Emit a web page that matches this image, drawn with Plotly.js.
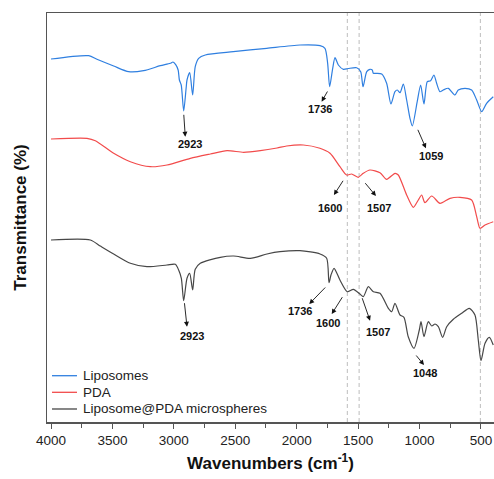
<!DOCTYPE html>
<html>
<head>
<meta charset="utf-8">
<script src="https://cdn.plot.ly/plotly-3.0.1.min.js"></script>
<style>html,body{margin:0;padding:0;background:#fff;}#chart{width:494px;height:479px;}</style>
</head>
<body>
<div id="chart"></div>
<script>
// Wavenumbers (cm-1) and relative transmittance (arbitrary units, offset stacks)
const liposomesW = [4000,3693,3626,3490,3368,3246,3110,3029,3007,2985,2965,2955,2940,2920,2900,2893,2871,2847,2826,2798,2744,2516,2244,1973,1810,1770,1748,1732,1707,1688,1661,1620,1580,1512,1479,1460,1430,1404,1385,1376,1349,1308,1268,1233,1200,1181,1159,1132,1105,1078,1059,1019,991,964,937,910,883,861,834,807,766,712,685,630,576,535,494,454,400];
const liposomesT = [363,366.3,362.7,356,350.3,351.3,356.3,358.7,360,357.3,352,342,337,311,334,342,349.3,327,355.3,363.7,367,370.3,373.7,377,376.3,373.7,358.7,335.3,353.7,364.3,357,352.7,353.5,354.3,350.3,335.3,350.3,352.7,352,348.7,348.7,348,338.7,318,330.3,332,329.3,338,322,303.7,296,320.3,337,318,340.3,341.3,347,338.7,330.3,332,333.7,327,332,333.7,332,322,310.3,318.7,325.3];

const pdaW = [4000,3707,3639,3490,3354,3192,3056,2866,2703,2567,2432,2296,2160,2082,1946,1811,1729,1648,1593,1553,1499,1458,1404,1322,1268,1200,1173,1105,1051,1010,983,956,901,834,752,671,576,535,508,467,400];
const pdaT = [283,283.7,281.3,268.7,260.3,255.3,257,263.7,268,271.3,269.7,271.3,274,276,277,273.7,268.7,255.3,247,248,244.7,248.7,252,249.3,242.7,248.7,247,227,214.7,222,227,219.3,226,218.7,223.7,224.7,222,205.3,193.7,197,200.3];

const lipPdaW = [4000,3680,3599,3490,3354,3219,3056,2988,2961,2939,2920,2893,2871,2847,2826,2785,2622,2513,2378,2242,2136,1973,1810,1756,1737,1721,1696,1648,1588,1539,1485,1458,1417,1376,1322,1254,1227,1200,1159,1127,1092,1045,1002,988,964,929,901,874,847,812,779,725,657,595,549,522,500,467,432,400];
const lipPdaT = [182,182,176,168,158.7,155.3,157,157.7,152,143.7,121.3,143.7,148.7,132,152.7,158.7,164.7,166,163.7,168,170.3,171.3,168,163.7,139.3,147,153.7,142,130.3,132.7,128,125.3,135.3,130.3,128.7,113.7,110.3,118.7,107,104.7,85.3,73.7,92,100.3,85.3,100.3,96,98,95.3,84.7,95.3,102.7,108.7,113.7,107,82,61.3,78.7,84.7,77];

const seriesNames = ["Liposomes","PDA","Liposome@PDA microspheres"];
const seriesColors = ["#2f7fe0","#f24b4b","#474747"];
const markerLines = [1588, 1492, 505];
const tickVals = [4000,3500,3000,2500,2000,1500,1000,500];

// peak labels: [text, tailW, tailT, headW, headT, labelW, labelT]
const peakLabels = [
  ["2923",2920,308.7,2907,285.3,2869,278],
  ["1736",1743,332,1797,320.3,1811,313],
  ["1059",1019,293.7,948,273.7,907,266],
  ["1600",1615,242.7,1697,227,1729,214.3],
  ["1507",1452,240.3,1355,226,1328,214.3],
  ["2923",2915,120.3,2893,95.3,2850,86],
  ["1736",1756,136,1898,118,1973,111.3],
  ["1600",1621,126.3,1715,108,1743,98.7],
  ["1507",1471,125.3,1403,101.3,1336,90.3],
  ["1048",1037,68,964,57,956,49.3]
];

const FONT = 'Liberation Sans, Arial, sans-serif';
const xs = [liposomesW, pdaW, lipPdaW];
const ys = [liposomesT, pdaT, lipPdaT];
const traces = xs.map((x,i)=>({
  x: x, y: ys[i], type:'scatter', mode:'lines', name: seriesNames[i],
  line:{color: seriesColors[i], width:1.2, shape:'spline', smoothing:0.7}, showlegend:false
}));

const shapes = markerLines.map(w=>({
  type:'line', xref:'x', yref:'paper', x0:w, x1:w, y0:0, y1:1,
  line:{color:'#bdbdbd', width:1, dash:'4px,3px'}, layer:'below'
}));

const annotations = [];
peakLabels.forEach(p=>{
  annotations.push({
    x:p[3], y:p[4], ax:p[1], ay:p[2], xref:'x', yref:'y', axref:'x', ayref:'y',
    text:'', showarrow:true, arrowhead:2, arrowsize:1.1, arrowwidth:0.9, arrowcolor:'#111', standoff:0, startstandoff:0
  });
  annotations.push({
    x:p[5], y:p[6], xref:'x', yref:'y', text:'<b>'+p[0]+'</b>', showarrow:false,
    font:{family:FONT, size:11, color:'#111'}
  });
});

// manual legend (paper coords)
const legY = [0.1132, 0.0726, 0.0318];
seriesNames.forEach((n,i)=>{
  shapes.push({type:'line', xref:'paper', yref:'paper', x0:0.0112, x1:0.0671, y0:legY[i], y1:legY[i],
    line:{color:seriesColors[i], width:1.3}});
  annotations.push({xref:'paper', yref:'paper', x:0.0765, y:legY[i], xanchor:'left', yanchor:'middle',
    text:n, showarrow:false, font:{family:FONT, size:13.5, color:'#222'}});
});

const layout = {
  width:494, height:479,
  margin:{l:47, r:0, t:13, b:57},
  paper_bgcolor:'#fff', plot_bgcolor:'#fff',
  font:{family:FONT, color:'#222'},
  showlegend:false,
  xaxis:{
    range:[4032.6, 394], showgrid:false, zeroline:false,
    showline:true, linecolor:'#555', linewidth:1.5, mirror:true,
    tickmode:'array', tickvals:tickVals, ticks:'outside', ticklen:5, tickwidth:1, tickcolor:'#555',
    minor:{dtick:250, ticks:'outside', ticklen:4, tickwidth:1, tickcolor:'#555', showgrid:false},
    tickfont:{size:13.5, color:'#222'},
    title:{text:'<b>Wavenumbers (cm<sup>-1</sup>)</b>', font:{size:17, color:'#111'}, standoff:10}
  },
  yaxis:{
    range:[0, 409], showgrid:false, zeroline:false, showticklabels:false, ticks:'',
    showline:true, linecolor:'#555', linewidth:1.5,
    title:{text:'<b>Transmittance (%)</b>', font:{size:17, color:'#111'}, standoff:14}
  },
  shapes: shapes,
  annotations: annotations
};

Plotly.newPlot('chart', traces, layout, {displayModeBar:false, staticPlot:true});
</script>
</body>
</html>
